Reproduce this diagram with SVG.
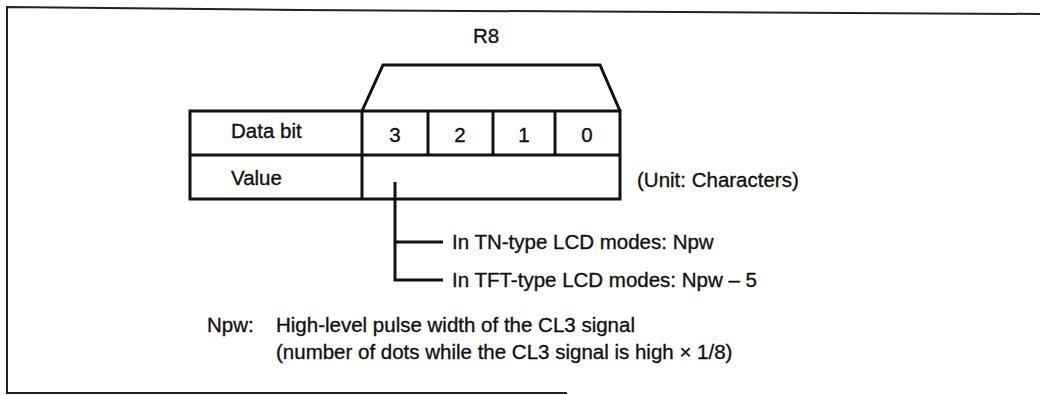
<svg xmlns="http://www.w3.org/2000/svg" width="1040" height="395" viewBox="0 0 1040 395">
<style>
.t{font-family:"Liberation Sans",Arial,Helvetica,sans-serif;font-size:20.5px;fill:#111;stroke:#111;stroke-width:0.35}
.c{text-anchor:middle}
.ln{stroke:#111;stroke-width:3;fill:none}
.fr{stroke:#222;stroke-width:2;fill:none}
</style>
<rect width="1040" height="395" fill="#fff"/>
<g id="frame">
<polyline class="fr" points="1040,14 300,10 7,7 7,393 567,393"/>
</g>
<g id="r8">
<text class="t c" x="486" y="43">R8</text>
<polyline class="ln" points="362,111 383,65 600,65 620,111"/>
</g>
<g id="table">
<rect class="ln" x="190" y="111" width="430" height="88"/>
<line class="ln" x1="190" y1="155" x2="620" y2="155"/>
<line class="ln" x1="362" y1="111" x2="362" y2="199"/>
<line class="ln" x1="428" y1="111" x2="428" y2="155"/>
<line class="ln" x1="493" y1="111" x2="493" y2="155"/>
<line class="ln" x1="555" y1="111" x2="555" y2="155"/>
<text class="t" x="231" y="138">Data bit</text>
<text class="t" x="231" y="185">Value</text>
<text class="t c" x="395" y="142">3</text>
<text class="t c" x="460" y="142">2</text>
<text class="t c" x="524" y="142">1</text>
<text class="t c" x="587" y="142">0</text>
</g>
<g id="unit"><text class="t" x="637" y="187">(Unit: Characters)</text></g>
<g id="connectors">
<polyline class="ln" points="395,182 395,280 443,280"/>
<line class="ln" x1="395" y1="242" x2="443" y2="242"/>
</g>
<g id="tn"><text class="t" x="452" y="249">In TN-type LCD modes: Npw</text></g>
<g id="tft"><text class="t" x="452" y="287">In TFT-type LCD modes: Npw – 5</text></g>
<g id="note">
<text class="t" x="207" y="332">Npw:</text>
<text class="t" x="276" y="332">High-level pulse width of the CL3 signal</text>
<text class="t" x="276" y="359">(number of dots while the CL3 signal is high × 1/8)</text>
</g>
</svg>
